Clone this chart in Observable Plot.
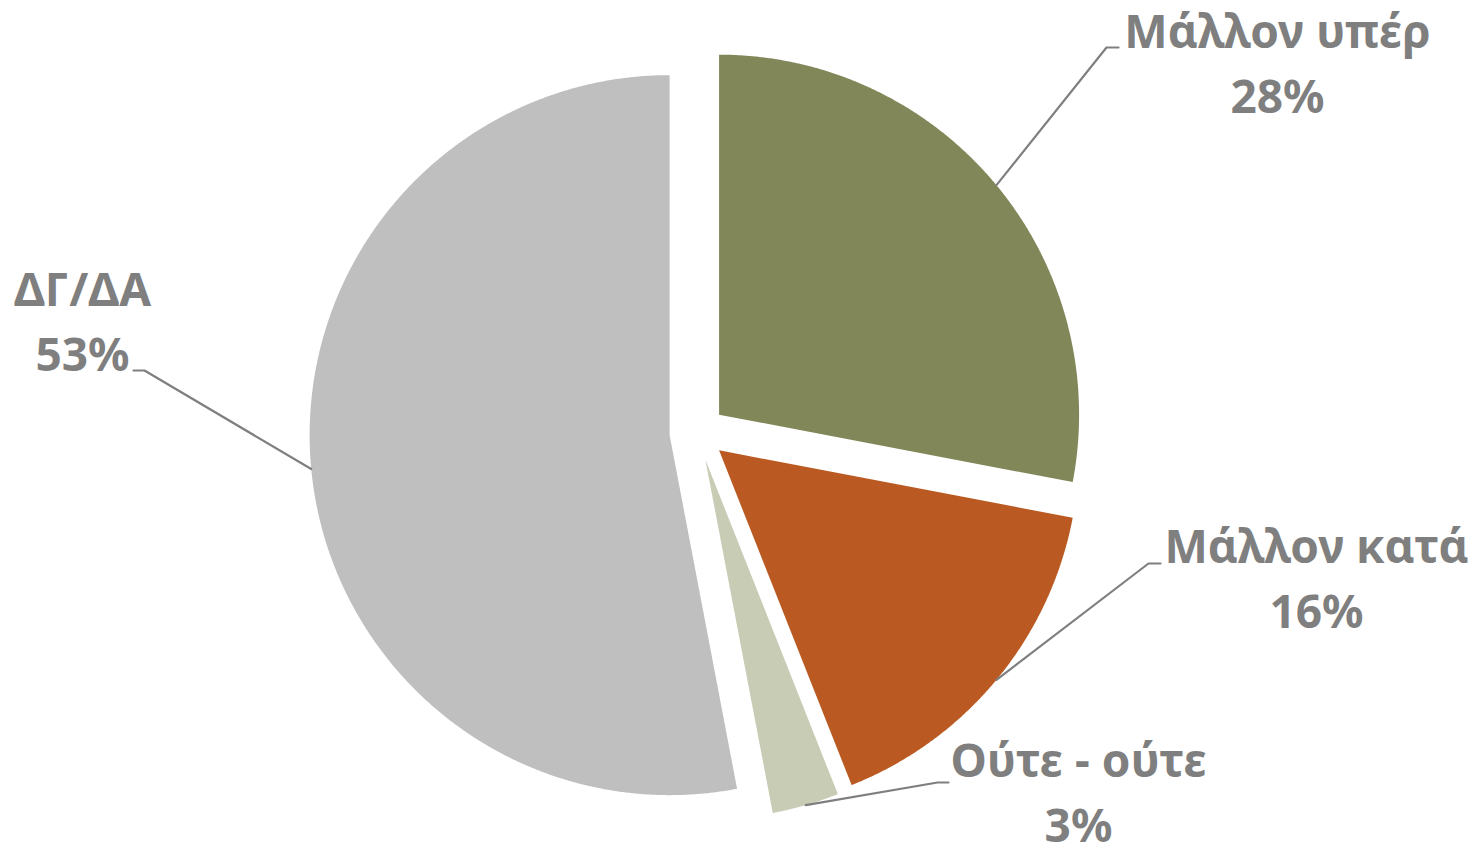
<!DOCTYPE html>
<html><head><meta charset="utf-8">
<script src="https://cdn.jsdelivr.net/npm/d3@7"></script>
<script src="https://cdn.jsdelivr.net/npm/@observablehq/plot@0.6"></script>
<style>body{margin:0;background:#fff;overflow:hidden}</style>
</head><body><div id="chart"></div>
<script>
// ---- data ----
const categories = ["Μάλλον υπέρ", "Μάλλον κατά", "Ούτε - ούτε", "ΔΓ/ΔΑ"];
const values = [28, 16, 3, 53];
const colors = ["#82875A", "#BA5A22", "#C8CCB4", "#BFBFBF"];
const percentLabels = values.map(v => v + "%");

// ---- layout ----
const W = 1477, H = 849;
const CX = 697, CY = 432, R = 360, EXPLODE = 28;
const labelElbows = [[1106, 47], [1148, 563], [937, 782], [144, 370]];
const labelEnds   = [[1118, 47], [1160, 563], [948, 782], [133, 370]];
const labelCenters = [[1277, 112], [1316, 627], [1078, 841], [82, 370]];
const FS = 46, LH = 65;

const pie = d3.pie().sort(null).value(d => d)(values);
const slices = pie.map((p, i) => {
  const mid = (p.startAngle + p.endAngle) / 2;
  const ox = CX + EXPLODE * Math.sin(mid), oy = CY - EXPLODE * Math.cos(mid);
  return {cat: categories[i], a0: p.startAngle, a1: p.endAngle, mid, ox, oy};
});

const slicePts = [];
for (const s of slices) {
  slicePts.push({cat: s.cat, x: s.ox, y: s.oy});
  const n = Math.max(4, Math.ceil((s.a1 - s.a0) / (Math.PI / 720)));
  for (let k = 0; k <= n; k++) {
    const a = s.a0 + (s.a1 - s.a0) * k / n;
    slicePts.push({cat: s.cat, x: s.ox + R * Math.sin(a), y: s.oy - R * Math.cos(a)});
  }
}

const leaderPts = [];
slices.forEach((s, i) => {
  leaderPts.push({cat: s.cat, x: s.ox + R * Math.sin(s.mid), y: s.oy - R * Math.cos(s.mid)});
  leaderPts.push({cat: s.cat, x: labelElbows[i][0], y: labelElbows[i][1]});
  leaderPts.push({cat: s.cat, x: labelEnds[i][0], y: labelEnds[i][1]});
});

const labels = categories.map((c, i) => ({
  text: c + "\n" + percentLabels[i], x: labelCenters[i][0], y: labelCenters[i][1]
}));

const chart = Plot.plot({
  width: W, height: H,
  margin: 0,
  x: {domain: [0, W], range: [0, W], axis: null},
  y: {domain: [0, H], range: [0, H], axis: null},
  color: {domain: categories, range: colors},
  style: {fontFamily: "'Noto Sans', sans-serif", overflow: "visible", background: "#fff"},
  marks: [
    Plot.line(slicePts, {x: "x", y: "y", z: "cat", fill: "cat", stroke: "none", curve: "linear-closed"}),
    Plot.line(leaderPts, {x: "x", y: "y", z: "cat", stroke: "#7F7F7F", strokeWidth: 2.2}),
    Plot.text(labels, {x: "x", y: "y", text: "text", fill: "#7F7F7F", fontSize: FS, fontWeight: "bold",
      lineAnchor: "bottom", lineHeight: LH / FS, textAnchor: "middle"})
  ]
});
document.getElementById("chart").appendChild(chart);
</script>
</body></html>
